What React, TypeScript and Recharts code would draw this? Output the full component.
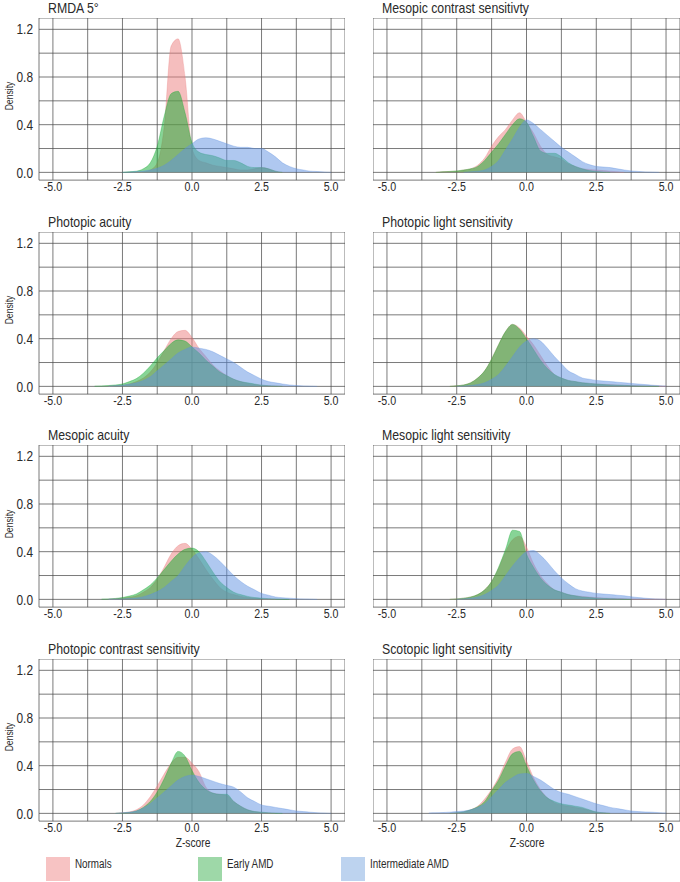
import { AreaChart, Area, XAxis, YAxis, CartesianGrid } from "recharts";

const FONT = "'Liberation Sans', Arial, sans-serif";
const NARROW = 0.82;

const GROUPS = ["Normals", "Early AMD", "Intermediate AMD"];
const COLORS = ["#EB7D7D", "#0FAA2E", "#5F91E1"];
const KEY_COLORS = ["#F7C3C3", "#9ED8A8", "#BDD3EF"];

const Z = [
  -3.5, -3.25, -3.0, -2.75, -2.5, -2.25, -2.0, -1.75, -1.5, -1.25, -1.0, -0.75, -0.5, -0.25,
  0, 0.25, 0.5, 0.75, 1.0, 1.25, 1.5, 1.75, 2.0, 2.25, 2.5, 2.75, 3.0, 3.25, 3.5, 3.75, 4.0,
  4.25, 4.5, 4.75, 5.0,
];
const X_TICKS = [-5, -3.75, -2.5, -1.25, 0, 1.25, 2.5, 3.75, 5];
const X_LABELS = [-5, -2.5, 0, 2.5, 5];
const Y_TICKS = [0, 0.2, 0.4, 0.6, 0.8, 1.0, 1.2];
const Y_LABELS = [0, 0.4, 0.8, 1.2];

const _ = null;

// RMDA 5°
const rmdaNormals = [_, _, _, _, _, _, 0, 0.005, 0.02, 0.08, 0.38, 1.06, 1.12, 0.8, 0.2, 0.1, 0.08, 0.06, 0.05, 0.04, 0.03, 0.02, 0.02, 0.03, 0.04, 0.03, 0.01, 0, _, _, _, _, _, _, _];
const rmdaEarly = [_, _, _, _, 0, 0.005, 0.01, 0.03, 0.08, 0.22, 0.47, 0.66, 0.68, 0.5, 0.25, 0.17, 0.15, 0.14, 0.12, 0.1, 0.1, 0.08, 0.05, 0.04, 0.04, 0.03, 0.01, 0, _, _, _, _, _, _, _];
const rmdaInter = [_, _, _, _, 0, 0.003, 0.007, 0.012, 0.02, 0.035, 0.06, 0.1, 0.15, 0.2, 0.24, 0.28, 0.29, 0.28, 0.26, 0.24, 0.22, 0.21, 0.21, 0.2, 0.2, 0.17, 0.13, 0.08, 0.05, 0.03, 0.02, 0.01, 0.007, 0.003, 0];

// Mesopic contrast sensitivity
const mcsNormals = [_, 0, 0.005, 0.007, 0.01, 0.02, 0.03, 0.06, 0.12, 0.22, 0.3, 0.36, 0.44, 0.5, 0.42, 0.33, 0.22, 0.15, 0.13, 0.11, 0.07, 0.05, 0.03, 0.025, 0.02, 0.015, 0.01, 0.005, 0, _, _, _, _, _, _];
const mcsEarly = [_, 0, 0.005, 0.008, 0.012, 0.02, 0.03, 0.05, 0.1, 0.17, 0.24, 0.32, 0.4, 0.45, 0.42, 0.3, 0.18, 0.16, 0.16, 0.13, 0.08, 0.05, 0.03, 0.015, 0.008, 0.003, 0, _, _, _, _, _, _, _, _];
const mcsInter = [_, _, _, _, _, 0, 0.005, 0.01, 0.02, 0.05, 0.1, 0.19, 0.28, 0.38, 0.44, 0.41, 0.36, 0.31, 0.26, 0.21, 0.17, 0.13, 0.09, 0.065, 0.05, 0.045, 0.04, 0.03, 0.02, 0.012, 0.008, 0.004, 0.002, 0, _];

// Photopic acuity
const paNormals = [_, _, 0.003, 0.006, 0.01, 0.02, 0.04, 0.07, 0.12, 0.2, 0.3, 0.4, 0.46, 0.47, 0.41, 0.32, 0.25, 0.18, 0.13, 0.09, 0.06, 0.04, 0.025, 0.015, 0.01, 0.005, 0.003, 0, _, _, _, _, _, _, _];
const paEarly = [0.002, 0.004, 0.007, 0.012, 0.02, 0.04, 0.065, 0.11, 0.17, 0.24, 0.3, 0.36, 0.39, 0.38, 0.33, 0.28, 0.22, 0.17, 0.12, 0.09, 0.06, 0.04, 0.03, 0.02, 0.01, 0.006, 0.003, 0, _, _, _, _, _, _, _];
const paInter = [_, _, 0.003, 0.006, 0.01, 0.018, 0.03, 0.05, 0.08, 0.13, 0.18, 0.23, 0.28, 0.31, 0.33, 0.32, 0.31, 0.29, 0.26, 0.23, 0.2, 0.16, 0.12, 0.09, 0.06, 0.04, 0.03, 0.02, 0.012, 0.007, 0.004, 0.002, 0, _, _];

// Photopic light sensitivity
const plsNormals = [_, _, _, 0, 0.005, 0.012, 0.03, 0.07, 0.13, 0.23, 0.35, 0.46, 0.52, 0.49, 0.42, 0.35, 0.26, 0.17, 0.1, 0.07, 0.05, 0.04, 0.03, 0.025, 0.02, 0.018, 0.015, 0.012, 0.01, 0.008, 0.006, 0.004, 0.003, 0.002, 0];
const plsEarly = [_, _, _, 0, 0.005, 0.012, 0.03, 0.07, 0.13, 0.23, 0.35, 0.46, 0.52, 0.48, 0.4, 0.31, 0.22, 0.15, 0.1, 0.07, 0.05, 0.04, 0.03, 0.025, 0.02, 0.015, 0.012, 0.01, 0.008, 0.006, 0.004, 0.003, 0.002, 0, _];
const plsInter = [_, _, _, _, 0, 0.003, 0.008, 0.015, 0.03, 0.06, 0.1, 0.17, 0.25, 0.33, 0.38, 0.4, 0.38, 0.32, 0.25, 0.19, 0.13, 0.1, 0.07, 0.06, 0.05, 0.045, 0.04, 0.035, 0.03, 0.025, 0.02, 0.015, 0.01, 0.006, 0.003];

// Mesopic acuity
const maNormals = [_, _, 0.002, 0.005, 0.01, 0.018, 0.03, 0.06, 0.1, 0.17, 0.27, 0.38, 0.45, 0.47, 0.42, 0.34, 0.25, 0.17, 0.1, 0.06, 0.04, 0.025, 0.015, 0.01, 0.005, 0.003, 0, _, _, _, _, _, _, _, _];
const maEarly = [_, 0.002, 0.004, 0.008, 0.015, 0.028, 0.045, 0.08, 0.12, 0.18, 0.25, 0.32, 0.38, 0.42, 0.43, 0.4, 0.32, 0.23, 0.15, 0.1, 0.06, 0.04, 0.025, 0.015, 0.01, 0.006, 0.004, 0.002, 0, _, _, _, _, _, _];
const maInter = [_, _, 0.002, 0.003, 0.004, 0.007, 0.012, 0.022, 0.04, 0.065, 0.1, 0.15, 0.2, 0.28, 0.35, 0.39, 0.4, 0.37, 0.32, 0.26, 0.2, 0.15, 0.11, 0.08, 0.05, 0.035, 0.02, 0.014, 0.01, 0.006, 0.004, 0.002, 0, _, _];

// Mesopic light sensitivity
const mlsNormals = [_, _, _, 0, 0.004, 0.01, 0.02, 0.04, 0.08, 0.15, 0.26, 0.4, 0.5, 0.53, 0.44, 0.3, 0.2, 0.13, 0.08, 0.06, 0.04, 0.03, 0.025, 0.02, 0.015, 0.012, 0.01, 0.008, 0.006, 0.004, 0.003, 0.002, 0.002, 0.001, 0];
const mlsEarly = [_, _, _, 0, 0.004, 0.01, 0.02, 0.04, 0.08, 0.15, 0.27, 0.42, 0.58, 0.57, 0.38, 0.27, 0.18, 0.12, 0.08, 0.06, 0.04, 0.03, 0.02, 0.015, 0.01, 0.008, 0.006, 0.004, 0.002, 0, _, _, _, _, _];
const mlsInter = [_, _, _, _, 0, 0.004, 0.01, 0.02, 0.04, 0.075, 0.12, 0.2, 0.28, 0.35, 0.4, 0.41, 0.37, 0.31, 0.24, 0.18, 0.13, 0.09, 0.07, 0.06, 0.05, 0.045, 0.04, 0.035, 0.03, 0.022, 0.015, 0.01, 0.005, 0.003, 0];

// Photopic contrast sensitivity
const pcsNormals = [_, _, _, 0, 0.005, 0.012, 0.03, 0.07, 0.14, 0.23, 0.33, 0.42, 0.47, 0.47, 0.42, 0.35, 0.22, 0.17, 0.16, 0.15, 0.1, 0.06, 0.03, 0.015, 0.008, 0.004, 0, _, _, _, _, _, _, _, _];
const pcsEarly = [_, _, _, 0, 0.003, 0.008, 0.02, 0.05, 0.1, 0.18, 0.29, 0.42, 0.52, 0.48, 0.36, 0.26, 0.2, 0.17, 0.16, 0.16, 0.1, 0.06, 0.03, 0.015, 0.01, 0.005, 0.002, 0, _, _, _, _, _, _, _];
const pcsInter = [_, _, _, 0, 0.005, 0.01, 0.02, 0.045, 0.08, 0.13, 0.18, 0.23, 0.28, 0.31, 0.32, 0.31, 0.29, 0.27, 0.25, 0.235, 0.22, 0.18, 0.13, 0.1, 0.07, 0.06, 0.05, 0.04, 0.03, 0.02, 0.015, 0.01, 0.005, 0.003, 0];

// Scotopic light sensitivity
const slsNormals = [_, _, _, 0, 0.005, 0.012, 0.03, 0.06, 0.12, 0.2, 0.3, 0.43, 0.54, 0.56, 0.44, 0.3, 0.2, 0.13, 0.09, 0.07, 0.06, 0.05, 0.04, 0.025, 0.01, 0.005, 0, _, _, _, _, _, _, _, _];
const slsEarly = [_, _, _, 0, 0.006, 0.014, 0.03, 0.055, 0.1, 0.19, 0.28, 0.4, 0.5, 0.52, 0.4, 0.28, 0.19, 0.13, 0.1, 0.08, 0.07, 0.06, 0.05, 0.03, 0.012, 0.005, 0, _, _, _, _, _, _, _, _];
const slsInter = [0.003, 0.005, 0.007, 0.01, 0.015, 0.02, 0.03, 0.05, 0.08, 0.14, 0.2, 0.26, 0.3, 0.33, 0.335, 0.31, 0.28, 0.24, 0.2, 0.175, 0.16, 0.14, 0.12, 0.1, 0.08, 0.065, 0.05, 0.04, 0.03, 0.02, 0.015, 0.012, 0.01, 0.006, 0.003];

const PANELS = [
  { title: "RMDA 5°", series: [rmdaNormals, rmdaEarly, rmdaInter] },
  { title: "Mesopic contrast sensitivty", series: [mcsNormals, mcsEarly, mcsInter] },
  { title: "Photopic acuity", series: [paNormals, paEarly, paInter] },
  { title: "Photopic light sensitivity", series: [plsNormals, plsEarly, plsInter] },
  { title: "Mesopic acuity", series: [maNormals, maEarly, maInter] },
  { title: "Mesopic light sensitivity", series: [mlsNormals, mlsEarly, mlsInter] },
  { title: "Photopic contrast sensitivity", series: [pcsNormals, pcsEarly, pcsInter] },
  { title: "Scotopic light sensitivity", series: [slsNormals, slsEarly, slsInter] },
];

// layout (px)
const ROW_ZERO = [172.3, 386, 599.7, 813.3];
const PX_PER_UNIT = 119.2;
const Y_DOMAIN: [number, number] = [-0.065, 1.295];
const PLOT_H = (Y_DOMAIN[1] - Y_DOMAIN[0]) * PX_PER_UNIT;
const AXIS_H = 22;
const TEXT = "#2a2a2a";
const GRID = "#4d4d4d";

// narrow-looking tick labels (no condensed font installed)
function XTick(props: any) {
  const { x, y, payload } = props;
  const v = payload.value as number;
  const label = X_LABELS.includes(v) ? v.toFixed(1) : "";
  return (
    <text
      transform={`translate(${x},${y}) scale(${NARROW},1)`}
      textAnchor="middle"
      dy="0.71em"
      fontSize={13}
      fontFamily={FONT}
      fill={TEXT}
    >
      {label}
    </text>
  );
}

function YTick(props: any) {
  const { x, y, payload } = props;
  const v = payload.value as number;
  const label = Y_LABELS.some((l) => Math.abs(l - v) < 1e-6) ? v.toFixed(1) : "";
  return (
    <text
      transform={`translate(${x},${y}) scale(${NARROW},1)`}
      textAnchor="end"
      dy="0.355em"
      fontSize={14.5}
      fontFamily={FONT}
      fill={TEXT}
    >
      {label}
    </text>
  );
}

function Panel({ idx }: { idx: number }) {
  const p = PANELS[idx];
  const row = Math.floor(idx / 2);
  const isLeft = idx % 2 === 0;
  const zeroY = ROW_ZERO[row];
  const top = zeroY - Y_DOMAIN[1] * PX_PER_UNIT;
  const yAxisW = isLeft ? 39 : 0;
  const left = isLeft ? 0 : 373;
  const width = (isLeft ? 306 : 307) + yAxisW;
  const data = Z.map((z, i) => ({ z, n: p.series[0][i], e: p.series[1][i], m: p.series[2][i] }));
  const keys = ["n", "e", "m"];

  return (
    <>
      <div
        style={{
          position: "absolute",
          left: isLeft ? 48 : 382,
          top: Math.max(0, zeroY - 165 - 7.5),
          height: 15,
          lineHeight: "15px",
          fontSize: 15,
          color: TEXT,
          whiteSpace: "nowrap",
          transform: `scaleX(${NARROW})`,
          transformOrigin: "left center",
        }}
      >
        {p.title}
      </div>
      {isLeft && (
        <div
          style={{
            position: "absolute",
            left: 9 - 30,
            top: zeroY - 76 - 7,
            width: 60,
            height: 14,
            lineHeight: "14px",
            textAlign: "center",
            fontSize: 10.5,
            color: TEXT,
            transform: `rotate(-90deg) scaleX(${NARROW})`,
          }}
        >
          Density
        </div>
      )}
      <div style={{ position: "absolute", left, top }}>
        <AreaChart
          width={width}
          height={PLOT_H + AXIS_H}
          data={data}
          margin={{ top: 0, right: 0, bottom: 0, left: 0 }}
        >
          <CartesianGrid stroke={GRID} strokeOpacity={0.75} />
          <XAxis
            dataKey="z"
            type="number"
            domain={[-5.5, 5.5]}
            ticks={X_TICKS}
            interval={0}
            allowDataOverflow
            axisLine={false}
            tickLine={false}
            tickSize={0}
            tickMargin={2}
            height={AXIS_H}
            tick={<XTick />}
          />
          <YAxis
            type="number"
            domain={Y_DOMAIN}
            ticks={Y_TICKS}
            interval={0}
            allowDataOverflow
            hide={!isLeft}
            width={yAxisW}
            axisLine={false}
            tickLine={false}
            tickSize={0}
            tickMargin={6}
            tick={<YTick />}
          />
          {keys.map((k, i) => (
            <Area
              key={k}
              dataKey={k}
              type="monotone"
              baseValue={0}
              fill={COLORS[i]}
              fillOpacity={0.5}
              stroke={COLORS[i]}
              strokeOpacity={0.55}
              strokeWidth={0.6}
              dot={false}
              activeDot={false}
              isAnimationActive={false}
            />
          ))}
        </AreaChart>
      </div>
      {row === 3 && (
        <div
          style={{
            position: "absolute",
            left: (isLeft ? 193 : 526.7) - 40,
            top: zeroY + 29.5 - 7,
            width: 80,
            height: 14,
            lineHeight: "14px",
            textAlign: "center",
            fontSize: 12.5,
            color: TEXT,
            transform: `scaleX(${NARROW})`,
          }}
        >
          Z-score
        </div>
      )}
    </>
  );
}

const LEGEND_X = [46, 198, 341];

export default function App() {
  return (
    <div
      style={{
        position: "absolute",
        left: 0,
        top: 0,
        width: 680,
        height: 882,
        overflow: "hidden",
        background: "#fff",
        fontFamily: FONT,
      }}
    >
      {PANELS.map((_p, i) => (
        <Panel key={i} idx={i} />
      ))}
      {GROUPS.map((g, i) => (
        <div key={g}>
          <div
            style={{
              position: "absolute",
              left: LEGEND_X[i],
              top: 857,
              width: 24,
              height: 24,
              background: KEY_COLORS[i],
            }}
          />
          <div
            style={{
              position: "absolute",
              left: LEGEND_X[i] + 29,
              top: 864 - 8,
              height: 16,
              lineHeight: "16px",
              fontSize: 12,
              color: TEXT,
              whiteSpace: "nowrap",
              transform: `scaleX(${NARROW})`,
              transformOrigin: "left center",
            }}
          >
            {g}
          </div>
        </div>
      ))}
    </div>
  );
}
